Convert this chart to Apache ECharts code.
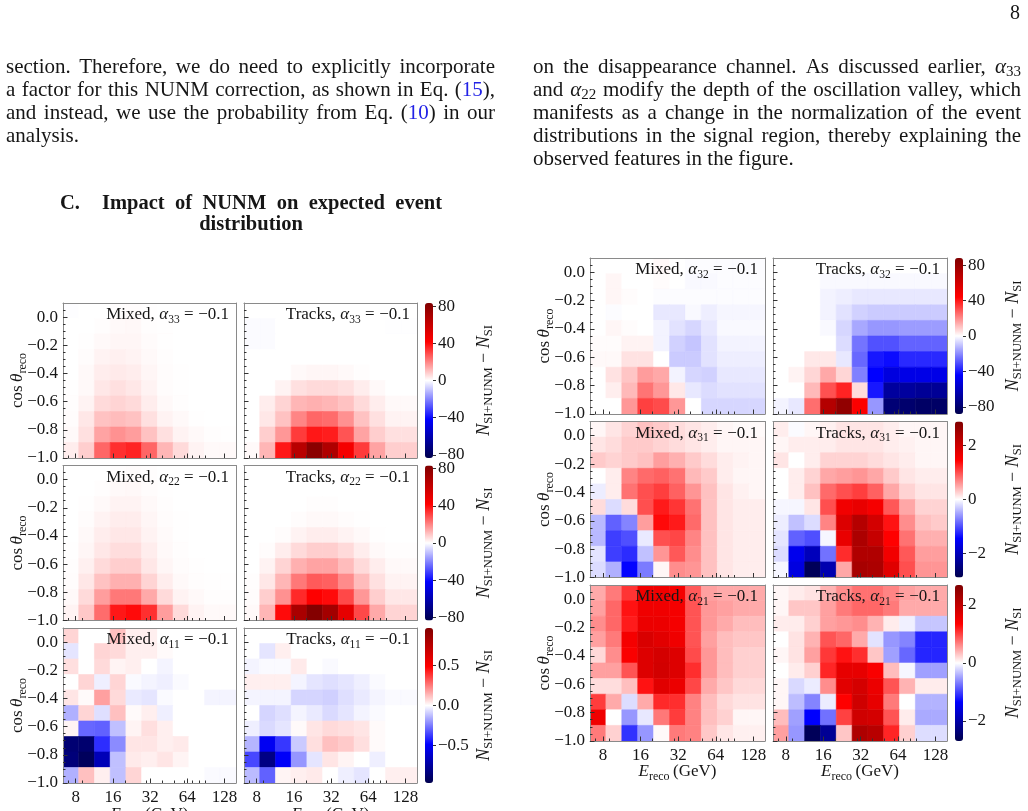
<!DOCTYPE html>
<html><head><meta charset="utf-8">
<script src="https://cdn.jsdelivr.net/npm/echarts@6/dist/echarts.min.js"></script>
<style>html,body{margin:0;padding:0;background:#fff}#chart{width:1028px;height:811px}</style>
</head><body><div id="chart"></div>
<script>
// ================= DATA =================
const energyEdgesGeV = [6.31, 8.46, 11.34, 15.20, 20.38, 27.32, 36.62, 49.09, 65.81, 88.22, 118.27, 158.49];
const cosEdges = [-1.0, -0.89, -0.78, -0.67, -0.56, -0.45, -0.34, -0.23, -0.12, -0.01, 0.1];
const energyTicks = [8, 16, 32, 64, 128];
const energyMinorTicks = [7, 9, 20, 30, 40, 50, 60, 70, 80, 90];
const cosTicks = [-1.0, -0.8, -0.6, -0.4, -0.2, 0.0];
const cosMinorTicks = [-0.95, -0.9, -0.85, -0.75, -0.7, -0.65, -0.55, -0.5, -0.45, -0.35, -0.3, -0.25, -0.15, -0.1, -0.05, 0.05];
const channels = ['Mixed', 'Tracks'];
const alphaLabels = ['33', '22', '11', '32', '31', '21'];
const alphaValue = '\u22120.1';
const colorbarMax = [83.4, 83.4, 0.97, 88, 2.9, 2.69];
const colorbarTicks = [[-80, -40, 0, 40, 80], [-80, -40, 0, 40, 80], [-0.5, 0, 0.5], [-80, -40, 0, 40, 80], [-2, 0, 2], [-2, 0, 2]];

// each matrix: rows from top (cos ~ 0.1) to bottom (cos = -1), 11 energy columns
const mixedA33 = [
 [-0.3,0,0,0.3,0.5,0.2,0,0,0,0,0],
 [0,0,0.3,1.0,1.2,0.4,0.1,0,0,0,0],
 [0,0.2,1.0,1.5,1.5,0.6,0.2,0,0,0,0],
 [0,0.5,2.0,2.5,2.0,1.0,0.3,0,0,0,0],
 [0,1.0,3.0,3.5,3.0,1.5,0.5,0.1,0,0,0],
 [0.2,1.0,4.0,5.0,4.0,2.0,0.5,0.2,0,0,0],
 [0.3,2.0,6.0,7.0,6.0,3.0,1.0,0.3,0,0,0],
 [0.5,4.0,10,11,10,5.0,2.0,1.0,0.2,0,0],
 [1.0,5.0,15,18,16,10,5.0,2.0,1.0,0.3,0.2],
 [3.0,8.0,25,34,36,25,12,6.0,2.0,1.0,1.0]];
const tracksA33 = [
 [0,0,0,0,0,0,0,0,0,0,0],
 [-0.6,-0.6,0,0,0,0,0,0,0,-0.2,-0.2],
 [-0.6,-0.6,0,0,0,0,0,0,0,0,0],
 [0,0,0,0,0,0,0,0,0,0,0],
 [0,0,0,1.0,1.5,1.5,1.0,0.3,0,0,0],
 [0,0,2.0,5.0,6.0,6.0,5.0,3.0,1.0,0,0],
 [0,3.0,7.0,12,13,12,10,6.0,3.0,1.0,1.0],
 [0,4.0,10,20,25,24,18,10,5.0,2.0,2.0],
 [0,8.0,17,32,38,37,28,15,8.0,5.0,5.0],
 [1.0,12,38,65,80,68,45,32,15,8.0,8.0]];
const mixedA22 = [
 [0,0,0,0.3,0.5,0.3,0,0,0,0,0],
 [0,0,0.3,1.0,1.2,0.5,0.1,0,0,0,0],
 [0,0.2,1.0,2.0,2.0,1.0,0.3,0,0,0,0],
 [0,0.5,2.0,3.0,3.0,1.5,0.5,0.1,0,0,0],
 [0,1.0,3.0,4.0,4.0,2.0,0.8,0.2,0,0,0],
 [0.2,1.5,4.0,5.5,5.5,3.0,1.0,0.3,0,0,0],
 [0.3,2.5,6.0,8.0,8.0,4.0,1.5,0.5,0.1,0,0],
 [0.5,4.0,10,13,13,7.0,3.0,1.0,0.3,0.1,0.1],
 [1.0,6.0,16,22,22,14,6.0,2.0,1.0,0.3,0.3],
 [2.0,9.0,24,38,40,34,16,6.0,2.0,1.0,1.0]];
const tracksA22 = [
 [0,0,0,0,0,0,0,0,0,0,0],
 [0,0,0,0,0,0,0,0,0,0,0],
 [0,0,0,0,0.3,0.3,0,0,0,0,0],
 [0,0,0,0.5,1.0,1.0,0.5,0.2,0,0,0],
 [0,0,0.5,2.0,3.0,3.0,2.0,1.0,0.2,0,0],
 [0,0.5,3.0,6.0,8.0,8.0,6.0,3.0,1.0,0.3,0.3],
 [0,2.0,7.0,13,15,15,11,6.0,3.0,1.0,1.0],
 [0.3,4.0,12,22,27,26,19,11,5.0,2.0,2.0],
 [0.5,8.0,18,35,42,40,30,17,8.0,4.0,4.0],
 [1.0,12,40,70,82,72,50,30,14,7.0,7.0]];
const mixedA11 = [
 [0.08,0,0,0.12,0.03,0.03,0,0,0,0,0],
 [-0.05,0,0.08,0.07,0.03,0.03,0.01,0,0,0,0],
 [0.06,0,0.07,0.02,0.03,0,-0.02,0,0,0,0],
 [0,0.08,-0.03,0.08,-0.01,-0.02,-0.03,-0.01,0,0,0],
 [0.05,0.01,0.18,0.07,-0.04,-0.05,-0.01,0,0,-0.02,-0.02],
 [-0.15,0.08,-0.06,0.12,0.01,0.03,-0.03,0,0,0,0],
 [0.02,-0.29,-0.3,-0.12,0.02,0.06,0.03,0,0,0,0],
 [-0.87,-0.88,-0.40,-0.22,0.05,0.05,0.03,0.04,0,0,0],
 [-0.85,-0.93,-0.68,-0.12,0.04,0.03,0.05,0.02,0,0,0],
 [-0.15,0.12,0.03,-0.12,0.08,0,0,0,0,-0.01,-0.01]];
const tracksA11 = [
 [0,0,0,0,0,0,0,0,0,0,0],
 [0,-0.05,0.03,0,0,0,0,0,0,0,0],
 [-0.02,-0.01,-0.01,0.04,0,-0.01,0,0,0,0,0],
 [0.03,0.03,0.03,-0.02,-0.05,-0.06,-0.05,-0.03,-0.01,0,0],
 [-0.02,-0.02,-0.02,-0.08,-0.08,-0.09,-0.06,-0.04,-0.02,-0.01,-0.01],
 [0,-0.08,-0.06,-0.02,-0.04,-0.07,-0.05,-0.02,-0.01,0,0],
 [-0.03,-0.07,-0.05,0.01,0.05,0.07,0.06,0.05,0.01,0,0],
 [-0.14,-0.52,-0.38,-0.10,0.06,0.12,0.10,0.06,0.01,0,0],
 [-0.35,-0.82,-0.50,-0.20,-0.05,0.05,0.02,0,-0.03,0,0],
 [-0.13,-0.30,0.02,0.03,0.04,0,-0.03,-0.05,0,0.03,0.03]];
const mixedA32 = [
 [0,0,0,0,1.0,0,-0.5,-0.5,-0.5,-0.5,-0.5],
 [0,1.5,0,0,0.5,0,-1.0,-1.0,-0.5,-0.5,-0.5],
 [0,1.5,0.5,0,-0.5,-0.5,-0.5,-0.5,-0.5,-0.5,-0.5],
 [0,-0.5,0,0,-4.0,-4.0,-1.0,-3.0,-1.5,-1.5,-1.5],
 [0,1.5,0.5,0,-2.0,-5.0,-7.0,-4.0,-1.0,-1.0,-1.0],
 [0.5,0.5,2.0,2.0,-2.0,-8.0,-10,-5.0,-2.0,-2.0,-2.0],
 [1.0,1.0,5.0,5.0,0,-9.0,-9.0,-5.0,-3.0,-3.0,-3.0],
 [0,5.0,10,17,15,-2.0,-7.0,-8.0,-4.0,-4.0,-4.0],
 [0,3.0,12,24,18,4.0,-4.0,-6.0,-5.0,-5.0,-5.0],
 [0,0,18,33,31,18,0,-7.0,-7.0,-7.0,-7.0]];
const tracksA32 = [
 [0,0,0,0,0,0,0,0,0,0,0],
 [0,0,0,-1,-1,-1,-1,-1,-1,-1,-1],
 [0,0,0,-2,-3,-4,-4,-4,-4,-4,-4],
 [0,0,0,-2,-5,-8,-9,-9,-9,-9,-9],
 [0,0,0,-1,-7,-15,-18,-18,-17,-17,-17],
 [0,0,0,0,-6,-24,-30,-30,-27,-27,-27],
 [0,0,4,4,-4,-26,-40,-42,-37,-37,-37],
 [0,2,7,15,7,-22,-44,-52,-50,-50,-50],
 [0,0,12,30,38,6,-40,-68,-68,-70,-70],
 [-2,-4,25,70,82,45,-18,-78,-80,-82,-82]];
const mixedA31 = [
 [0.05,0.15,0.25,0.35,0.3,0.2,0.15,0.1,0.05,0.03,0.03],
 [0.15,0.2,0.3,0.3,0.25,0.2,0.15,0.1,0.05,0.05,0.05],
 [0.3,0.25,0.3,0.35,0.55,0.45,0.3,0.2,0.1,0.07,0.05],
 [0,0.1,0.7,0.85,0.9,0.8,0.4,0.3,0.1,0.05,0.05],
 [-0.1,0.1,0.8,1.0,1.1,0.9,0.6,0.35,0.15,0.08,0.05],
 [0.2,-0.2,0.2,1.0,1.3,1.15,0.8,0.35,0.15,0.1,0.1],
 [-0.4,-0.9,-0.7,0.55,1.4,1.3,0.85,0.35,0.15,0.1,0.1],
 [-0.4,-1.1,-1.0,-0.12,1.0,1.05,0.7,0.35,0.15,0.1,0.1],
 [-0.15,-1.1,-1.2,-0.35,0.6,0.95,0.65,0.35,0.15,0.1,0.1],
 [-0.2,-0.45,-1.43,-0.75,0.05,0.65,0.6,0.35,0.15,0.1,0.1]];
const tracksA31 = [
 [0.1,-0.02,0.05,0.08,0.15,0.15,0.15,0.1,0.05,0.05,0.05],
 [0.05,0.1,0.1,0.1,0.15,0.15,0.15,0.1,0.08,0.05,0.05],
 [0.15,0,0.1,0.25,0.25,0.25,0.2,0.15,0.1,0.05,0.05],
 [0,0.1,0.25,0.5,0.55,0.6,0.5,0.3,0.15,0.1,0.1],
 [0,0.1,0.35,0.85,1.0,1.1,0.9,0.5,0.25,0.15,0.15],
 [-0.05,-0.05,0.15,1.0,1.6,1.7,1.55,0.95,0.5,0.25,0.25],
 [-0.1,-0.35,-0.2,0.7,1.85,2.3,1.95,1.35,0.65,0.35,0.3],
 [-0.15,-0.9,-1.0,-0.05,1.7,2.4,2.1,1.45,0.8,0.45,0.45],
 [-0.2,-1.6,-2.0,-0.8,1.2,2.35,2.35,1.6,0.95,0.55,0.55],
 [-0.05,-1.7,-2.8,-2.1,0.5,2.45,2.4,1.8,1.0,0.6,0.6]];
const mixedA21 = [
 [0.45,0.7,1.07,1.5,1.5,1.45,0.87,0.5,0.45,0.45,0.45],
 [0.5,0.8,1.25,1.5,1.5,1.45,0.9,0.55,0.5,0.45,0.45],
 [0.6,0.8,1.2,1.55,1.55,1.45,0.9,0.55,0.45,0.35,0.35],
 [0.5,0.7,1.45,1.75,1.65,1.5,0.9,0.5,0.35,0.3,0.3],
 [0.2,0.6,1.4,1.7,1.8,1.7,0.95,0.55,0.35,0.25,0.25],
 [0.5,0.5,0.9,1.7,1.82,1.7,1.1,0.55,0.35,0.25,0.25],
 [0.18,0.18,0.34,1.25,1.66,1.55,0.97,0.45,0.3,0.2,0.2],
 [1.03,0.45,-0.18,0.45,1.13,1.1,0.66,0.35,0.2,0.15,0.15],
 [1.5,0,-0.55,-0.12,0.71,1.03,0.66,0.34,0.24,0.05,0.05],
 [0.7,0.24,-1.08,-0.55,0.03,0.7,0.66,0.29,0.13,0.08,0.08]];
const tracksA21 = [
 [0.05,0.1,0.15,0.4,0.6,0.75,0.75,0.65,0.5,0.45,0.45],
 [0.05,0.3,0.3,0.5,0.7,0.8,0.8,0.7,0.45,0.45,0.45],
 [0.1,0.1,0.25,0.5,0.55,0.6,0.4,0.1,-0.08,-0.3,-0.3],
 [0,0.15,0.4,0.9,0.8,0.45,-0.15,-0.55,-0.65,-1.15,-1.15],
 [0.05,0.15,0.5,1.05,1.25,1.1,0.3,-0.5,-0.8,-1.15,-1.15],
 [0,0.1,0.25,1.15,1.6,1.6,1.4,0.35,-0.05,-0.5,-0.5],
 [0.05,-0.2,-0.1,0.6,1.65,1.8,1.55,0.9,0.4,0.1,0.1],
 [0.05,-0.35,-0.65,-0.1,1.35,1.85,1.6,0.7,0,-0.4,-0.4],
 [0.35,-0.5,-1.35,-0.75,1.0,1.85,1.8,0.9,0.1,-0.45,-0.45],
 [0.5,-0.55,-2.6,-2.15,0.3,2.2,2.1,1.15,0.25,-0.18,-0.18]];

const panelData = [mixedA33, tracksA33, mixedA22, tracksA22, mixedA11, tracksA11,
                   mixedA32, tracksA32, mixedA31, tracksA31, mixedA21, tracksA21];

const leftParagraph = [
  'section. Therefore, we do need to explicitly incorporate',
  'a factor for this NUNM correction, as shown in Eq. {r|(}{l|15}{r|),}',
  'and instead, we use the probability from Eq. {r|(}{l|10}{r|)} in our',
  'analysis.'];
const rightParagraph = [
  'on the disappearance channel. As discussed earlier, {m|\u03b1}{s|33}',
  'and {m|\u03b1}{s|22} modify the depth of the oscillation valley, which',
  'manifests as a change in the normalization of the event',
  'distributions in the signal region, thereby explaining the',
  'observed features in the figure.'];
const headingWords = 'Impact of NUNM on expected event';

// ================= STYLE / LAYOUT =================
const SERIF = '"Liberation Serif", "DejaVu Serif", serif';
const INK = '#161616';
const LINK = '#2222e6';
const FRAME = '#8a8a8a';
const TICK = '#333333';
const SEISMIC = ['#00004d', '#0000ff', '#ffffff', '#ff0000', '#800000'];
const FIGS = [
  {colX: [63, 244], colW: [173, 173], rowY: [303, 465.5, 628], h: 155, cbX: 425, ylabX: 17.5, cbLabX: 484, xlabY: 815},
  {colX: [590, 773], colW: [175, 174], rowY: [258, 421.5, 585], h: 156, cbX: 955, ylabX: 545, cbLabX: 1013, xlabY: 772}
];

function richSet(size, sub, pad, lh, bold) {
  const w = bold ? 'bold' : 'normal';
  return {
    r: {fontFamily: SERIF, fontSize: size, fontWeight: w, lineHeight: lh, fill: INK},
    m: {fontFamily: SERIF, fontSize: size, fontWeight: w, fontStyle: 'italic', lineHeight: lh, fill: INK},
    s: {fontFamily: SERIF, fontSize: sub, fontWeight: w, lineHeight: sub, padding: [pad, 0, 0, 0], fill: INK},
    l: {fontFamily: SERIF, fontSize: size, fontWeight: w, lineHeight: lh, fill: LINK}
  };
}
const PARA = richSet(21, 15, 11, 28, false);
const HEAD = richSet(20.5, 14, 10, 28, true);
const TITLE = richSet(17, 11.5, 9.5, 23, false);
const AXN = richSet(17, 12, 10, 24, false);
const CBN = richSet(18, 12.5, 10, 24, false);

const mctx = document.createElement('canvas').getContext('2d');
function parseRich(word) {
  const segs = []; const re = /\{(\w+)\|([^}]*)\}|([^{]+)/g; let m;
  while ((m = re.exec(word))) { if (m[3] !== undefined) segs.push(['r', m[3]]); else segs.push([m[1], m[2]]); }
  return segs;
}
function segWidth(k, t, st) {
  const s = st[k];
  mctx.font = (s.fontStyle || 'normal') + ' ' + (s.fontWeight || 'normal') + ' ' + s.fontSize + 'px ' + SERIF;
  return mctx.measureText(t).width;
}
function toRich(segs) { return segs.map(([k, t]) => '{' + k + '|' + t + '}').join(''); }
function measureWords(line, st) {
  const words = line.split(' ').filter(w => w.length);
  const parsed = words.map(parseRich);
  const widths = parsed.map(sg => sg.reduce((a, [k, t]) => a + segWidth(k, t, st), 0));
  return {parsed, widths, total: widths.reduce((a, b) => a + b, 0)};
}
function emitWords(els, parsed, widths, x0, gap, y, st) {
  let x = x0;
  parsed.forEach((sg, i) => {
    els.push({type: 'text', x: x, y: y, z: 100, silent: true,
      style: {text: toRich(sg), rich: st, align: 'left', verticalAlign: 'middle'}});
    x += widths[i] + gap;
  });
}
function placeLine(els, line, x0, x1, y, st, justify) {
  const W = measureWords(line, st);
  const n = W.parsed.length;
  const gap = (justify && n > 1) ? (x1 - x0 - W.total) / (n - 1) : segWidth('r', ' ', st);
  emitWords(els, W.parsed, W.widths, x0, gap, y, st);
}
function placeRight(els, line, x1, y, st, gapScale) {
  const W = measureWords(line, st);
  const gap = segWidth('r', ' ', st) * (gapScale || 1);
  const x0 = x1 - W.total - gap * (W.parsed.length - 1);
  emitWords(els, W.parsed, W.widths, x0, gap, y, st);
}
function richText(els, text, x, y, st, align, rot) {
  els.push({type: 'text', x: x, y: y, rotation: rot || 0, z: 100, silent: true,
    style: {text: text, rich: st, align: align || 'center', verticalAlign: 'middle'}});
}

const lg = v => Math.log10(v);
const xMin = lg(energyEdgesGeV[0]), xMax = lg(energyEdgesGeV[energyEdgesGeV.length - 1]);
const yMin = cosEdges[0], yMax = cosEdges[cosEdges.length - 1];
const fmtCos = v => (v < -1e-9 ? '\u2212' : '') + Math.abs(v).toFixed(1);
const fmtE = v => String(Math.round(Math.pow(10, v)));

function renderCell(params, api) {
  const p0 = api.coord([api.value(0), api.value(3)]);
  const p1 = api.coord([api.value(1), api.value(2)]);
  const c = api.visual('color');
  return {type: 'rect', shape: {x: p0[0], y: p0[1], width: p1[0] - p0[0], height: p1[1] - p0[1]},
          style: {fill: c, stroke: c, lineWidth: 0.6}};
}

const option = {animation: false, backgroundColor: '#ffffff', grid: [], xAxis: [], yAxis: [], series: [], visualMap: [], graphic: {elements: []}};
const els = option.graphic.elements;
const labelFont = {fontFamily: SERIF, fontSize: 17, color: INK};
const noLine = {show: false, onZero: false};

for (let f = 0; f < 2; f++) {
  const F = FIGS[f];
  for (let r = 0; r < 3; r++) {
    for (let c = 0; c < 2; c++) {
      const k = f * 6 + r * 2 + c;
      const left = F.colX[c], top = F.rowY[r], w = F.colW[c], h = F.h;
      option.grid.push({left: left, top: top, width: w, height: h});
      const bottomRow = r === 2, leftCol = c === 0;
      option.xAxis.push(
        {gridIndex: k, type: 'value', min: xMin, max: xMax, position: 'bottom', z: 5,
         axisLine: {show: true, onZero: false, lineStyle: {color: FRAME, width: 1}},
         axisTick: {show: true, inside: true, length: 4.5, customValues: energyTicks.map(lg), lineStyle: {color: TICK}},
         axisLabel: Object.assign({show: bottomRow, customValues: energyTicks.map(lg), formatter: fmtE, margin: 6}, labelFont),
         splitLine: {show: false}},
        {gridIndex: k, type: 'value', min: xMin, max: xMax, position: 'bottom', z: 5,
         axisLine: noLine, axisLabel: {show: false}, splitLine: {show: false},
         axisTick: {show: true, inside: true, length: 2.5, customValues: energyMinorTicks.map(lg), lineStyle: {color: TICK}}},
        {gridIndex: k, type: 'value', min: xMin, max: xMax, position: 'top', z: 5,
         axisLine: {show: true, onZero: false, lineStyle: {color: FRAME, width: 1}},
         axisTick: {show: false}, axisLabel: {show: false}, splitLine: {show: false}});
      option.yAxis.push(
        {gridIndex: k, type: 'value', min: yMin, max: yMax, position: 'left', z: 5,
         axisLine: {show: true, onZero: false, lineStyle: {color: FRAME, width: 1}},
         axisTick: {show: true, inside: true, length: 4.5, customValues: cosTicks, lineStyle: {color: TICK}},
         axisLabel: Object.assign({show: leftCol, customValues: cosTicks, formatter: fmtCos, margin: 5}, labelFont),
         splitLine: {show: false}},
        {gridIndex: k, type: 'value', min: yMin, max: yMax, position: 'left', z: 5,
         axisLine: noLine, axisLabel: {show: false}, splitLine: {show: false},
         axisTick: {show: true, inside: true, length: 2.5, customValues: cosMinorTicks, lineStyle: {color: TICK}}},
        {gridIndex: k, type: 'value', min: yMin, max: yMax, position: 'right', z: 5,
         axisLine: {show: true, onZero: false, lineStyle: {color: FRAME, width: 1}},
         axisTick: {show: false}, axisLabel: {show: false}, splitLine: {show: false}});
      const M = panelData[k];
      const data = [];
      for (let ri = 0; ri < M.length; ri++) {
        const b = M.length - 1 - ri;
        for (let ci = 0; ci < M[ri].length; ci++) {
          data.push([lg(energyEdgesGeV[ci]), lg(energyEdgesGeV[ci + 1]), cosEdges[b], cosEdges[b + 1], M[ri][ci]]);
        }
      }
      option.series.push({type: 'custom', name: channels[c] + ' a' + alphaLabels[f * 3 + r], xAxisIndex: 3 * k, yAxisIndex: 3 * k,
        renderItem: renderCell, data: data, encode: {x: [0, 1], y: [2, 3]}, z: 2, silent: true, clip: true});
      placeRight(els, channels[c] + ', {m|\u03b1}{s|' + alphaLabels[f * 3 + r] + '} = ' + alphaValue,
                 left + w - 7, top + 12, TITLE, 1.05);
      if (leftCol) richText(els, '{r|cos}{r|\u2009}{m|\u03b8}{s|reco}', F.ylabX, top + h / 2, AXN, 'center', Math.PI / 2);
      if (bottomRow) richText(els, '{m|E}{s|reco}{r|\u2009(GeV)}', left + w / 2, F.xlabY, AXN, 'center');
    }
  }
}

// colorbars
for (let j = 0; j < 6; j++) {
  const f = Math.floor(j / 3), r = j % 3, F = FIGS[f];
  const vmax = colorbarMax[j];
  const top = F.rowY[r], h = F.h;
  const s0 = f * 6 + r * 2;
  option.visualMap.push({type: 'continuous', seriesIndex: [s0, s0 + 1], dimension: 4, min: -vmax, max: vmax,
    inRange: {color: SEISMIC}, orient: 'vertical', left: F.cbX, top: top, itemWidth: 8, itemHeight: h,
    padding: 0, calculable: false, hoverLink: false, text: null, show: true});
  const gi = 12 + j;
  option.grid.push({left: F.cbX, top: top, width: 8, height: h});
  option.xAxis.push({gridIndex: gi, type: 'value', show: false, min: 0, max: 1});
  const decimals = j === 2 ? 1 : 0;
  option.yAxis.push({gridIndex: gi, type: 'value', min: -vmax, max: vmax, position: 'right', z: 5,
    axisLine: noLine,
    axisTick: {show: true, inside: false, length: 3, customValues: colorbarTicks[j], lineStyle: {color: TICK}},
    axisLabel: Object.assign({show: true, customValues: colorbarTicks[j], margin: 5,
      formatter: v => (v < -1e-9 ? '\u2212' : '') + Math.abs(v).toFixed(decimals)}, labelFont),
    splitLine: {show: false}});
  richText(els, '{m|N}{s|SI+NUNM}{r| \u2212 }{m|N}{s|SI}', F.cbLabX, top + h / 2, CBN, 'center', Math.PI / 2);
}

// page text
els.push({type: 'text', x: 1020, y: 14, z: 100, silent: true, style: {text: '8', fontFamily: SERIF, fontSize: 20, fill: INK, align: 'right', verticalAlign: 'middle'}});
const lineYs = [67, 90, 113, 136, 159];
leftParagraph.forEach((ln, i) => placeLine(els, ln, 6, 495, lineYs[i], PARA, i < leftParagraph.length - 1));
rightParagraph.forEach((ln, i) => placeLine(els, ln, 533, 1021, lineYs[i], PARA, i < rightParagraph.length - 1));
els.push({type: 'text', x: 60, y: 204, z: 100, silent: true, style: {text: '{r|C.}', rich: HEAD, align: 'left', verticalAlign: 'middle'}});
placeLine(els, headingWords, 102, 442, 204, HEAD, true);
richText(els, '{r|distribution}', 251, 225, HEAD, 'center');

const chart = echarts.init(document.getElementById('chart'), null, {renderer: 'canvas', width: 1028, height: 811});
chart.setOption(option);
</script>
</body></html>
